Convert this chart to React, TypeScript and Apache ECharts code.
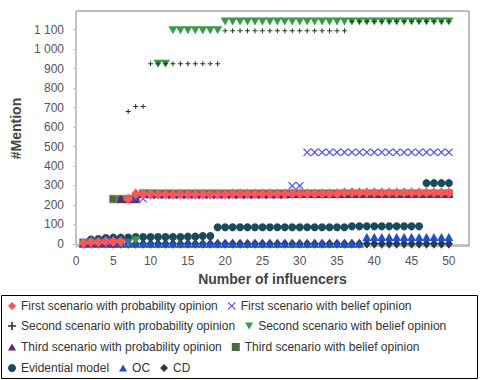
import React, { useEffect, useRef } from "react";
import * as echarts from "echarts";

const influencers = [1,2,3,4,5,6,7,8,9,10,11,12,13,14,15,16,17,18,19,20,21,22,23,24,25,26,27,28,29,30,31,32,33,34,35,36,37,38,39,40,41,42,43,44,45,46,47,48,49,50];

const firstProb = [5,10,10,12,12,12,230,258,255,255,255,255,255,255,255,255,255,255,255,255,258,258,258,258,258,258,258,258,258,258,258,258,258,258,258,262,262,262,262,262,262,262,262,262,262,262,262,262,262,262];
const firstBelief = [10,10,10,10,10,10,10,232,232,250,250,250,250,250,250,250,250,250,250,250,250,250,250,250,250,250,250,250,298,298,470,470,470,470,470,470,470,470,470,470,470,470,470,470,470,470,470,470,470,470];
const secondProb = [3,3,3,3,3,3,680,705,705,925,925,925,925,925,925,925,925,925,925,1095,1095,1095,1095,1095,1095,1095,1095,1095,1095,1095,1095,1095,1095,1095,1095,1095,1142,1142,1142,1142,1142,1142,1142,1142,1142,1142,1142,1142,1142,1142];
const secondBelief = [3,3,3,3,3,3,3,18,258,258,925,925,1097,1097,1097,1097,1097,1097,1097,1142,1142,1142,1142,1142,1142,1142,1142,1142,1142,1142,1142,1142,1142,1142,1142,1142,1142,1142,1142,1142,1142,1142,1142,1142,1142,1142,1142,1142,1142,1142];
const thirdProb = [3,3,3,3,3,230,230,230,256,256,256,256,256,256,256,256,256,256,256,256,256,256,256,256,256,256,256,256,256,256,256,256,256,256,256,256,256,256,256,256,256,256,256,256,256,256,256,256,256,256];
const thirdBelief = [3,3,3,3,230,230,230,230,258,258,258,258,258,258,258,258,258,258,258,258,258,258,258,258,258,258,258,258,258,258,258,258,258,258,258,258,258,258,258,258,258,258,258,258,258,258,258,258,258,258];
const evidential = [null,22,25,30,32,32,33,35,35,35,35,35,35,35,37,38,40,40,85,85,85,85,85,85,85,85,85,85,85,85,85,85,85,85,85,85,90,90,90,90,90,90,90,90,90,90,312,312,312,312];
const oc = [0,0,0,0,0,0,0,0,0,0,0,0,0,0,0,0,0,0,0,0,0,0,0,0,0,0,0,0,0,0,0,0,0,0,0,0,0,0,35,35,35,35,35,35,35,35,35,35,35,35];
const cd = [0,0,0,0,0,0,0,0,0,0,0,0,0,0,0,0,0,0,0,0,0,0,0,0,0,0,0,0,0,0,0,0,0,0,0,0,0,0,0,0,0,0,0,0,0,0,0,0,0,0];

const xTicks = [0, 5, 10, 15, 20, 25, 30, 35, 40, 45, 50];
const yTicks = [0, 100, 200, 300, 400, 500, 600, 700, 800, 900, 1000, 1100];

const seriesNames = [
  "First scenario with probability opinion",
  "First scenario with belief opinion",
  "Second scenario with probability opinion",
  "Second scenario with belief opinion",
  "Third scenario with probability opinion",
  "Third scenario with belief opinion",
  "Evidential model",
  "OC",
  "CD",
];

const X_PATH = "path://M0,1 L1,0 L5,4 L9,0 L10,1 L6,5 L10,9 L9,10 L5,6 L1,10 L0,9 L4,5 Z";
const PLUS_PATH = "path://M4,0 L6,0 L6,4 L10,4 L10,6 L6,6 L6,10 L4,10 L4,6 L0,6 L0,4 L4,4 Z";
const DOWN_TRI = "path://M0,0 L10,0 L5,9 Z";
const UP_TRI = "path://M5,0 L10,9 L0,9 Z";

const FONT = "Liberation Sans";

export default function App() {
  const ref = useRef<HTMLDivElement>(null);
  useEffect(() => {
    if (!ref.current) return;
    const chart = echarts.init(ref.current, null, { renderer: "svg" });
    const values = [firstProb, firstBelief, secondProb, secondBelief, thirdProb, thirdBelief, evidential, oc, cd];
    const styles: any[] = [
      { symbol: "diamond", symbolSize: [9, 11], color: "#FF5555" },
      { symbol: X_PATH, symbolSize: 8, color: "#4B4BFF" },
      { symbol: PLUS_PATH, symbolSize: 5, color: "#1E3D1E" },
      { symbol: DOWN_TRI, symbolSize: [9, 8], color: "#3A9A48" },
      { symbol: UP_TRI, symbolSize: [9, 8], color: "#5B2A6B" },
      { symbol: "rect", symbolSize: 8, color: "#4D6A3C", border: "#b0b0b0" },
      { symbol: "circle", symbolSize: 8, color: "#1B4A5E" },
      { symbol: UP_TRI, symbolSize: [9, 8], color: "#1F4FD1" },
      { symbol: "diamond", symbolSize: [8, 10], color: "#2C394A" },
    ];
    const series = seriesNames.map((name, i) => ({
      name,
      type: "scatter",
      symbol: styles[i].symbol,
      symbolSize: styles[i].symbolSize,
      z: 20 - i,
      itemStyle: {
        color: styles[i].color,
        opacity: 1,
        borderColor: styles[i].border || undefined,
        borderWidth: styles[i].border ? 0.6 : 0,
      },
      emphasis: { disabled: true },
      data: influencers.map((x, k) => (values[i][k] == null ? null : [x, values[i][k]])).filter((d) => d !== null),
    }));

    const legendRow = (idx: number[], top: number) => ({
      show: true,
      orient: "horizontal",
      left: 8,
      top,
      padding: 0,
      itemWidth: 8,
      itemHeight: 8,
      itemGap: 10,
      itemTextGap: 6,
      selectedMode: false,
      data: idx.map((i) => ({
        name: seriesNames[i],
        icon: styles[i].symbol,
        itemStyle: { borderWidth: 0 },
      })),
      textStyle: { fontFamily: FONT, fontSize: 12, color: "#333" },
    });

    const fmt = (v: number) => String(v).replace(/\B(?=(\d{3})+(?!\d))/g, " ");

    chart.setOption({
      animation: false,
      backgroundColor: "#fff",
      grid: {
        left: 76,
        top: 11,
        right: 11,
        bottom: 134,
        show: true,
        borderColor: "#808080",
        borderWidth: 1,
        backgroundColor: "transparent",
      },
      xAxis: {
        type: "value",
        min: 0,
        max: 52.7,
        offset: 3,
        name: "Number of influencers",
        nameLocation: "middle",
        nameGap: 19,
        nameTextStyle: { fontFamily: FONT, fontSize: 14, fontWeight: "bold", color: "#444" },
        axisLine: { show: true, lineStyle: { color: "#c4c4c4" } },
        axisTick: { show: true, length: 4, customValues: xTicks, lineStyle: { color: "#c4c4c4" } },
        axisLabel: { customValues: xTicks, margin: 6, fontFamily: FONT, fontSize: 12, color: "#555" },
        splitLine: { show: false },
      },
      yAxis: {
        type: "value",
        min: -11,
        max: 1196,
        offset: 4,
        name: "#Mention",
        nameLocation: "middle",
        nameGap: 40,
        nameTextStyle: { fontFamily: FONT, fontSize: 14, fontWeight: "bold", color: "#444" },
        axisLine: { show: true, lineStyle: { color: "#c4c4c4" } },
        axisTick: { show: true, length: 3, customValues: yTicks, lineStyle: { color: "#c4c4c4" } },
        axisLabel: { customValues: yTicks, margin: 8, fontFamily: FONT, fontSize: 12, color: "#555", formatter: fmt },
        splitLine: { show: false },
      },
      legend: [
        legendRow([0, 1], 300),
        legendRow([2, 3], 320),
        legendRow([4, 5], 341),
        legendRow([6, 7, 8], 362),
      ],
      graphic: [
        {
          type: "rect",
          shape: { x: 1.5, y: 295.5, width: 476, height: 83 },
          style: { fill: "none", stroke: "#000", lineWidth: 1 },
          silent: true,
        },
      ],
      series,
    });
    return () => chart.dispose();
  }, []);
  return (
    <div
      ref={ref}
      style={{ position: "fixed", left: 0, top: 0, width: 480, height: 380 }}
    />
  );
}
